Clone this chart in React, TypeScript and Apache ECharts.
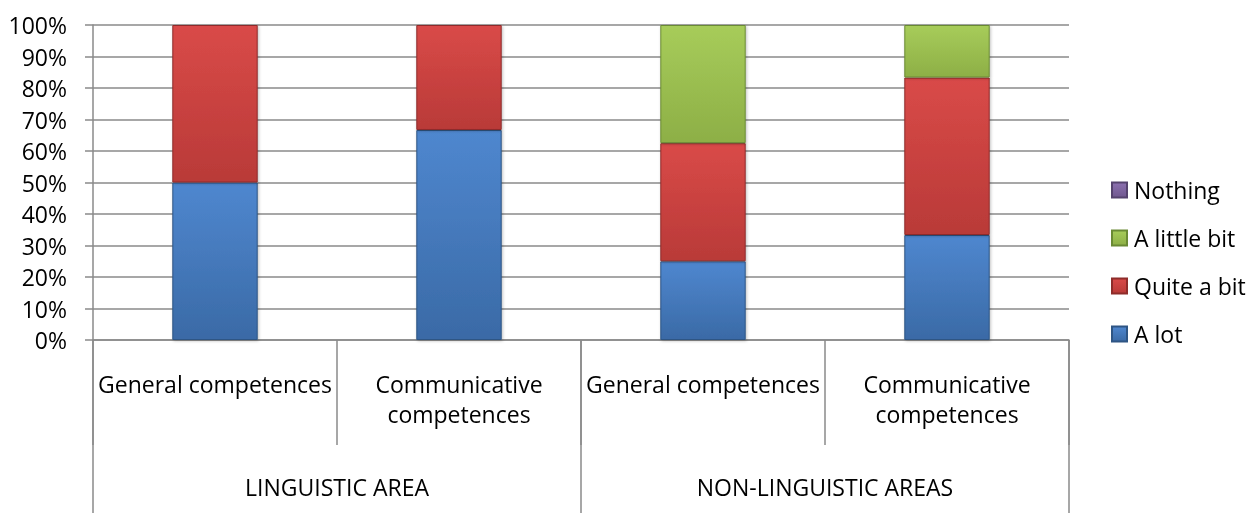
import React, { useEffect, useRef } from "react";
import * as echarts from "echarts";

const categories = ["General competences", "Communicative\ncompetences", "General competences", "Communicative\ncompetences"];
const groups = ["LINGUISTIC AREA", "NON-LINGUISTIC AREAS"];
const aLot = [50, 66.67, 25, 33.33];
const quiteABit = [50, 33.33, 37.5, 50];
const aLittleBit = [0, 0, 37.5, 16.67];
const nothing = [0, 0, 0, 0];
const yTicks = [0, 10, 20, 30, 40, 50, 60, 70, 80, 90, 100];

const FONT = "'Open Sans', 'Noto Sans', sans-serif";
const FS = 23;

function grad(top: string, bottom: string) {
  return new echarts.graphic.LinearGradient(0, 0, 0, 1, [
    { offset: 0, color: top },
    { offset: 1, color: bottom },
  ]);
}

export default function App() {
  const ref = useRef<HTMLDivElement>(null);
  useEffect(() => {
    if (!ref.current) return;
    const chart = echarts.init(ref.current, null, { renderer: "svg" });
    const mk = (name: string, data: number[], top: string, bottom: string, border: string) => ({
      name,
      type: "bar",
      stack: "total",
      xAxisIndex: 0,
      barWidth: "35%",
      data,
      itemStyle: {
        color: grad(top, bottom),
        borderColor: border,
        borderWidth: 1,
        shadowColor: "rgba(0,0,0,0.25)",
        shadowBlur: 3,
        shadowOffsetX: 1,
        shadowOffsetY: 1,
      },
    });
    const lineCol = "#8a8a8a";
    chart.setOption({
      animation: false,
      grid: { left: 93, right: 180, top: 25, bottom: 173 },
      legend: {
        orient: "vertical",
        left: 1111,
        top: 178,
        padding: 0,
        itemWidth: 15,
        itemHeight: 15,
        itemGap: 24,
        icon: "rect",
        data: ["Nothing", "A little bit", "Quite a bit", "A lot"],
        textStyle: { fontFamily: FONT, fontSize: FS, color: "#000", lineHeight: 24, padding: [0, 0, 0, 2] },
      },
      xAxis: [
        {
          type: "category",
          data: categories,
          position: "bottom",
          axisLine: { show: true, lineStyle: { color: lineCol, width: 1.5 } },
          axisTick: { show: true, length: 105, interval: 0, lineStyle: { color: lineCol, width: 1.5 } },
          axisLabel: {
            interval: 0,
            margin: 29,
            fontFamily: FONT,
            fontSize: FS,
            lineHeight: 30,
            color: "#000",
            align: "center",
          },
        },
        {
          type: "category",
          data: groups,
          position: "bottom",
          axisLine: { show: false },
          axisTick: { show: true, length: 173, interval: 0, lineStyle: { color: lineCol, width: 1.5 } },
          axisLabel: {
            interval: 0,
            margin: 132,
            fontFamily: FONT,
            fontSize: FS,
            lineHeight: 30,
            color: "#000",
          },
        },
      ],
      yAxis: {
        type: "value",
        min: 0,
        max: 100,
        interval: 10,
        axisLine: { show: true, lineStyle: { color: lineCol, width: 1.5 } },
        axisTick: { show: true, length: 8, lineStyle: { color: lineCol, width: 1.5 } },
        splitLine: { show: true, lineStyle: { color: lineCol, width: 1.5 } },
        axisLabel: {
          margin: 26,
          fontFamily: FONT,
          fontSize: FS,
          color: "#000",
          formatter: (v: number) => (yTicks.includes(v) ? v + "%" : ""),
        },
      },
      series: [
        mk("A lot", aLot, "#4F87CF", "#3A6AA6", "#2E5584"),
        mk("Quite a bit", quiteABit, "#D94A48", "#B93A38", "#8E2C2A"),
        mk("A little bit", aLittleBit, "#A7CC5A", "#8DAF46", "#6A8A34"),
        mk("Nothing", nothing, "#8C70B0", "#70588F", "#55436E"),
      ],
    });
    return () => chart.dispose();
  }, []);
  return <div ref={ref} style={{ position: "fixed", left: 0, top: 0, width: 1249, height: 513 }} />;
}
